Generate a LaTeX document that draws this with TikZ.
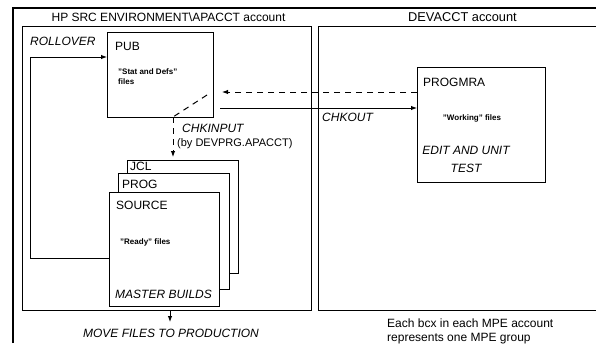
\documentclass[tikz,border=0pt]{standalone}
\usepackage{fontspec}
\setmainfont{Liberation Sans}
\usetikzlibrary{arrows.meta}
\begin{document}
\begin{tikzpicture}[x=1pt,y=-1pt,
  frame/.style={line width=1.2pt},
  boxn/.style={draw,line width=1.2pt,anchor=north west,inner sep=0pt,fill=white},
  lbl/.style={font=\fontsize{12}{14}\selectfont,inner sep=0pt},
  ilbl/.style={font=\fontsize{12}{14}\selectfont\itshape,inner sep=0pt},
  tiny/.style={font=\fontsize{8}{9}\selectfont\bfseries,inner sep=0pt},
  arr/.style={line width=1pt,-{Latex[length=6pt,width=4.5pt]}},
  dsh/.style={line width=1pt,dash pattern=on 6pt off 5pt}]
\useasboundingbox (0,0) rectangle (596,343);
\clip (0,0) rectangle (596,343);
% outer frame
\draw[frame] (13,343) -- (13,8) -- (600,8);
% account boxes
\node[boxn,minimum width=289pt,minimum height=284pt] (lbox) at (22,26) {};
\node[boxn,minimum width=300pt,minimum height=284pt] (rbox) at (318,26) {};
\node[lbl,anchor=base] (t1) at (168.5,21.3) {HP SRC ENVIRONMENT\textbackslash APACCT account};
\node[font=\fontsize{12.8}{14}\selectfont,inner sep=0pt,anchor=base] (t2) at (462.5,21.3) {DEVACCT account};
% PUB
\node[boxn,minimum width=106pt,minimum height=85pt] (pub) at (107,32) {};
\node[lbl,anchor=base west] (publ) at (115,50.3) {PUB};
\node[tiny,anchor=base west] (pubt1) at (118,74.5) {"Stat and Defs"};
\node[tiny,anchor=base west] (pubt2) at (118,84.5) {files};
% PROGMRA
\node[boxn,minimum width=128pt,minimum height=115pt] (prog) at (417,67) {};
\node[lbl,anchor=base west] (progl) at (423,86.3) {PROGMRA};
\node[tiny,anchor=base] (progt) at (472,120.5) {"Working" files};
\node[ilbl,anchor=base] (edit) at (466,154.3) {EDIT AND UNIT};
\node[ilbl,anchor=base] (test) at (466,172.3) {TEST};
% stack
\node[boxn,minimum width=111pt,minimum height=113pt] (jcl) at (127,160) {};
\node[lbl,anchor=base west] (jcll) at (130,170.3) {JCL};
\node[boxn,minimum width=111pt,minimum height=116pt] (pg) at (118,173) {};
\node[lbl,anchor=base west] (pgl) at (122,188.3) {PROG};
\node[boxn,minimum width=110pt,minimum height=114pt] (src) at (109,192) {};
\node[lbl,anchor=base west] (srcl) at (116,209.3) {SOURCE};
\node[tiny,anchor=base west] (srct) at (120,244) {"Ready" files};
\node[ilbl,anchor=base west] (mb) at (115,298.3) {MASTER BUILDS};
% rollover
\coordinate (rA) at (30,258);
\coordinate (rB) at (30,57);
\draw[arr] (src.west |- rA) -- (rA) -- (rB) -- (pub.west |- rB);
\node[ilbl,anchor=base west] (roll) at (30,45.3) {ROLLOVER};
% chkout
\coordinate (co) at (220,108);
\draw[arr] (co) -- (prog.west |- co);
\node[ilbl,anchor=base west] (col) at (322,121.3) {CHKOUT};
% dashed return
\coordinate (ci) at (222,92);
\draw[arr,dsh] (prog.west |- ci) -- (ci);
\coordinate (d1) at (207,95);
\coordinate (d2) at (173,117);
\coordinate (d3) at (173,157);
\draw[dsh] (d1) -- (d2);
\draw[arr,dsh] (d2) -- (d3);
\node[ilbl,anchor=base west] (cil) at (182,132.3) {CHKINPUT};
\node[font=\fontsize{11}{13}\selectfont,inner sep=0pt,anchor=base west] (cil2) at (177,146.3) {(by DEVPRG.APACCT)};
% move to production
\coordinate (mv) at (170,322);
\draw[arr] (lbox.south -| mv) -- (mv);
\node[ilbl,anchor=base] (mvl) at (171,337.3) {MOVE FILES TO PRODUCTION};
% note
\node[lbl,anchor=base west] (n1) at (387,327.3) {Each bcx in each MPE account};
\node[lbl,anchor=base west] (n2) at (387,341) {represents one MPE group};
\end{tikzpicture}
\end{document}
